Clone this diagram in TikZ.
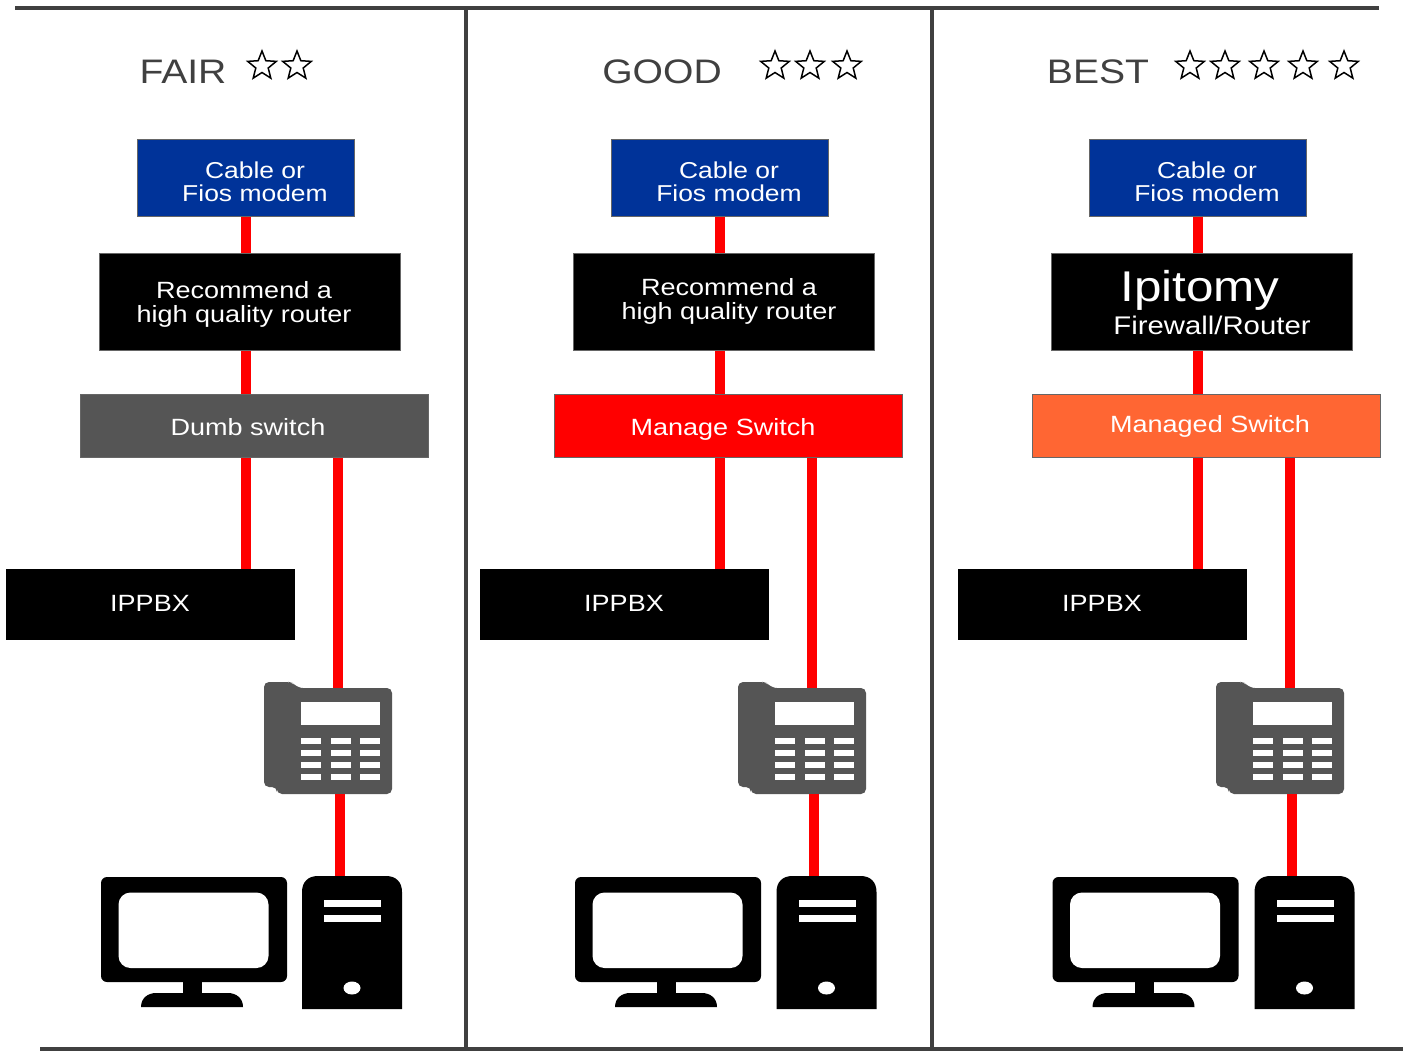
\documentclass[tikz,border=0pt]{standalone}
\usepackage{fontspec}
\setmainfont[FakeStretch=1.15]{Liberation Sans}
\usetikzlibrary{shapes.geometric}
\definecolor{framegrey}{HTML}{404040}
\definecolor{icongrey}{HTML}{555555}
\definecolor{modemblue}{HTML}{003399}
\definecolor{mgdorange}{HTML}{FF6633}
\newcommand{\fs}[1]{\fontsize{#1}{#1}\selectfont}
\tikzset{
  x=1pt,y=-1pt,
  box/.style={draw=gray!80!black,line width=1pt,inner sep=0pt,anchor=north west},
  boxtext/.style={text=white,align=center,inner sep=0pt,font=\fs{23.5}},
  wire/.style={draw=red,line width=10pt},
  frameline/.style={draw=framegrey,line width=4pt},
  title/.style={text=framegrey,inner sep=0pt,font=\fs{34}},
  starmark/.style={star,star points=5,star point ratio=2.3,draw=black,line width=1.5pt,fill=white,minimum size=30pt,inner sep=0pt},
  holder/.style={inner sep=0pt,anchor=north west},
}
% #1 prefix, #2 x offset, #3 switch colour, #4 monitor offset, #5 tower offset
\newcommand{\tiercol}[5]{
  \begin{scope}[xshift=#2pt]
    \coordinate (#1w1) at (246,0);
    \coordinate (#1w2) at (338,0);
    \coordinate (#1w3) at (340,0);
    \node[box,fill=modemblue,minimum width=216.5pt,minimum height=77pt] (#1modem) at (137,139.5) {};
    \node[boxtext,font=\fs{23}] (#1modemtext) at (255,181.5) {Cable or\\[0pt]Fios modem};
    \node[box,fill=black,minimum width=300.5pt,minimum height=97pt] (#1router) at (99,253) {};
    \node[box,fill=#3,minimum width=347.5pt,minimum height=63pt] (#1switch) at (80,394) {};
    \node[box,fill=black,draw=black,minimum width=287.5pt,minimum height=70pt] (#1pbx) at (6,569) {};
    \node[boxtext] (#1pbxtext) at (150,603) {IPPBX};
    \node[holder,minimum width=128pt,minimum height=112pt] (#1phone) at (264,682) {};
    \fill[icongrey,rounded corners=5pt] (264,682) -- (289,682) -- (293,683) -- (298,688) -- (392,688) -- (392,794) -- (277,794) -- (277,787) -- (264,787) -- cycle;
    \fill[white] (301,702) rectangle (380,725);
    \foreach \ky in {737.5,749.5,761.5,773.5}
      \foreach \kx in {301,331,360}
        \fill[white] (\kx,\ky) rectangle (\kx+20,\ky+6);
    \draw[wire] (#1modem.south -| #1w1) -- (#1router.north -| #1w1);
    \draw[wire] (#1router.south -| #1w1) -- (#1switch.north -| #1w1);
    \draw[wire] (#1switch.south -| #1w1) -- (#1pbx.north -| #1w1);
    \draw[wire] (#1switch.south -| #1w2) -- (#1w2 |- 0,688);
    \draw[wire] (#1w3 |- #1phone.south) -- (#1w3 |- 0,877);
  \end{scope}
  \begin{scope}[xshift=#4pt]
    \node[holder,minimum width=186pt,minimum height=130pt] (#1monitor) at (101,877) {};
    \fill[black,rounded corners=6pt] (101,877) rectangle (287,982);
    \fill[white,rounded corners=12pt] (118.5,892.5) rectangle (268.5,968);
    \fill[black] (183,980) rectangle (202,995);
    \fill[black] (141,1007) .. controls (141,998) and (148,993) .. (156,993) -- (228,993) .. controls (236,993) and (243,998) .. (243,1007) -- cycle;
  \end{scope}
  \begin{scope}[xshift=#5pt]
    \node[holder,minimum width=100pt,minimum height=133pt] (#1tower) at (302,876) {};
    \fill[black] (302,1009) -- (302,892) .. controls (302,882) and (308,876) .. (318,876) -- (386,876) .. controls (396,876) and (402,882) .. (402,892) -- (402,1009) -- cycle;
    \fill[white] (324,899.5) rectangle (381,907);
    \fill[white] (324,915) rectangle (381,922);
    \fill[white] (352,988) ellipse [x radius=8.5,y radius=6.5];
  \end{scope}
}
\begin{document}
\begin{tikzpicture}
  \useasboundingbox[fill=white] (0,0) rectangle (1408,1051);
  \tiercol{f}{0}{icongrey}{0}{0}
  \tiercol{g}{474}{red}{474}{474.5}
  \tiercol{b}{952}{mgdorange}{951.5}{952.5}
  % texts that differ per column
  \node[boxtext] (frt) at (244,304.5) {Recommend a\\[0pt]high quality router};
  \node[boxtext] (fst) at (248,427.5) {Dumb switch};
  \node[boxtext] (grt) at (729,301.5) {Recommend a\\[0pt]high quality router};
  \node[boxtext] (gst) at (723,429) {Manage Switch};
  \node[text=white,inner sep=0pt,font=\fs{43}] (brt1) at (1200,290) {Ipitomy};
  \node[text=white,inner sep=0pt,font=\fs{25.5}] (brt2) at (1212,325.5) {Firewall/Router};
  \node[boxtext] (bst) at (1210,426) {Managed Switch};
  % titles
  \node[title] (ftitle) at (183,71.5) {FAIR};
  \node[title] (gtitle) at (662,71.5) {GOOD};
  \node[title] (btitle) at (1098,71.5) {BEST};
  % stars
  \foreach \n/\sx in {a/262,b/297} \node[starmark] (fs\n) at (\sx,66) {};
  \foreach \n/\sx in {a/775,b/810,c/847} \node[starmark] (gs\n) at (\sx,66) {};
  \foreach \n/\sx in {a/1190,b/1225,c/1264,d/1303,e/1344} \node[starmark] (bs\n) at (\sx,66) {};
  % frame
  \coordinate (tl) at (15,8);
  \coordinate (tr) at (1379,8);
  \coordinate (bl) at (40,1049);
  \coordinate (br) at (1403,1049);
  \coordinate (v1t) at (466,10);
  \coordinate (v1b) at (466,1047);
  \coordinate (v2t) at (932,10);
  \coordinate (v2b) at (932,1047);
  \draw[frameline] (tl) -- (tr);
  \draw[frameline] (bl) -- (br);
  \draw[frameline] (v1t) -- (v1b);
  \draw[frameline] (v2t) -- (v2b);
\end{tikzpicture}
\end{document}
